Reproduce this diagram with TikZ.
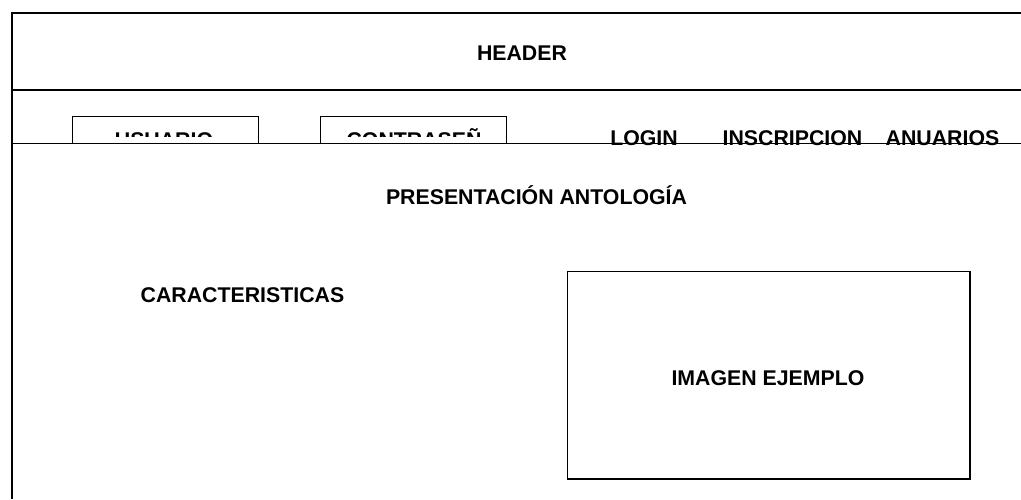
\documentclass[tikz,border=0pt]{standalone}
\usepackage{fontspec}
\setmainfont{Liberation Sans}
\begin{document}
\begin{tikzpicture}[x=1pt,y=-1pt,
  lbl/.style={font=\bfseries\fontsize{21.3}{24}\selectfont, inner sep=0pt, anchor=base},
  frame/.style={draw=black, line width=1.7pt},
  boxln/.style={draw=black, line width=1.3pt},
  field/.style={boxln, rectangle, inner sep=0pt, minimum width=186pt, minimum height=26.5pt}]
\useasboundingbox (0,0) rectangle (1021,499);
% outer frame (left and top), separators
\coordinate (tl) at (12,13);
\coordinate (tr) at (1021,13);
\coordinate (bl) at (12,499);
\coordinate (h1l) at (12,90);
\coordinate (h1r) at (1021,90);
\coordinate (h2l) at (12,143.3);
\coordinate (h2r) at (1021,143.3);
\draw[frame] (bl) -- (tl) -- (tr);
\draw[frame] (h1l) -- (h1r);
% header
\node[lbl] (header) at (522,60) {HEADER};
% login fields
\node[field] (usuario) at (165.5,130) {};
\node[field] (contra) at (413.7,130) {};
\begin{scope}
  \clip (60,100) rectangle (520,136);
  \node[lbl] (usuariotxt) at (164,147.3) {USUARIO};
  \node[lbl] (contratxt) at (414,147.3) {CONTRASEÑ};
\end{scope}
% nav labels
\node[lbl] (login) at (644,145) {LOGIN};
\node[lbl] (inscripcion) at (792.5,145) {INSCRIPCION};
\node[lbl] (anuarios) at (942.5,145) {ANUARIOS};
\draw[boxln] (h2l) -- (h2r);
% body
\node[lbl] (presentacion) at (536.5,204.5) {PRESENTACIÓN ANTOLOGÍA};
\node[lbl] (caracteristicas) at (242.5,302) {CARACTERISTICAS};
\node[boxln, rectangle, inner sep=0pt, minimum width=402.7pt, minimum height=207.3pt] (imagen) at (768.65,375.35) {};
\node[lbl] (imagentxt) at (768,385) {IMAGEN EJEMPLO};
\end{tikzpicture}
\end{document}
